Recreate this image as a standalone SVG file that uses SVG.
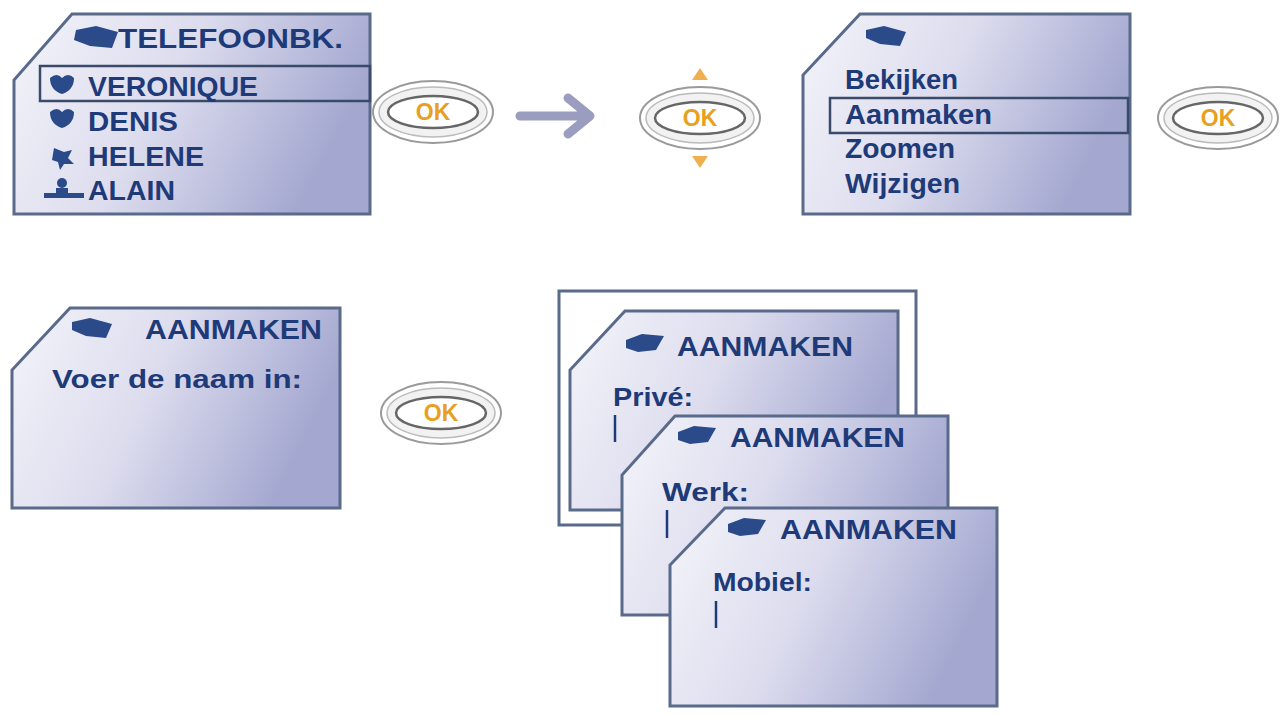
<svg xmlns="http://www.w3.org/2000/svg" width="1281" height="715" viewBox="0 0 1281 715">
<defs>
<linearGradient id="g" x1="0" y1="0" x2="1" y2="0.3"><stop offset="0" stop-color="#f4f4fa"/><stop offset="0.5" stop-color="#dcdcee"/><stop offset="1" stop-color="#a4a8d0"/></linearGradient>
<g id="okbtn"><ellipse rx="60" ry="31" fill="#fff" stroke="#9a9a9a" stroke-width="2"/><ellipse rx="54" ry="25" fill="#f2f2f2" stroke="#bbb" stroke-width="1.5"/><ellipse rx="45" ry="16" fill="#fff" stroke="#666" stroke-width="2.5"/><text y="8" text-anchor="middle" class="ok">OK</text></g>
</defs>
<style>
.scr{fill:url(#g);stroke:#5a6a8a;stroke-width:3}
.t{font-family:"Liberation Sans",Arial,sans-serif;font-weight:bold;fill:#1e3a78;font-size:27px}
.n{font-family:"Liberation Sans",Arial,sans-serif;font-weight:bold;fill:#1e3a78;font-size:25px}
.ok{font-family:"Liberation Sans",Arial,sans-serif;font-weight:bold;fill:#e8a020;font-size:23px}
.hl{fill:none;stroke:#3a4a6a;stroke-width:2.5}
.ic{fill:#2a4a8a}
.cur{stroke:#1e3a78;stroke-width:2.5}
</style>
<rect width="1281" height="715" fill="#fff"/>
<g id="screen1">
<path class="scr" d="M72,14 H370 V214 H14 V80 Z"/>
<rect class="hl" x="40" y="66" width="330" height="35"/>
<path class="ic" d="M76,30 l20,-4 l22,6 l-6,16 l-22,-2 l-16,-6 z"/>
<text class="t" x="118" y="48" textLength="225" lengthAdjust="spacingAndGlyphs">TELEFOONBK.</text>
<path class="ic" d="M50,78 q7,-6 12,0 q6,-6 12,0 q0,12 -12,16 q-12,-4 -12,-16z"/>
<text class="t" x="88" y="96" textLength="170" lengthAdjust="spacingAndGlyphs">VERONIQUE</text>
<path class="ic" d="M50,112 q7,-6 12,0 q6,-6 12,0 q0,12 -12,16 q-12,-4 -12,-16z"/>
<text class="t" x="88" y="131" textLength="90" lengthAdjust="spacingAndGlyphs">DENIS</text>
<path class="ic" d="M54,148 l10,4 l8,-2 l-4,8 l6,6 l-10,0 l-4,6 l-2,-8 l-6,-2 z"/>
<text class="t" x="88" y="166" textLength="116" lengthAdjust="spacingAndGlyphs">HELENE</text>
<circle class="ic" cx="62" cy="183" r="5"/><rect class="ic" x="44" y="193" width="40" height="5"/><rect class="ic" x="56" y="188" width="12" height="6"/>
<text class="t" x="88" y="200" textLength="87" lengthAdjust="spacingAndGlyphs">ALAIN</text>
</g>
<g id="ok1"><use href="#okbtn" x="433" y="112"/></g>
<g id="connectors"><path d="M520,116 H584 M568,98 L590,116 L568,134" fill="none" stroke="#9a9cc0" stroke-width="9" stroke-linecap="round" stroke-linejoin="round"/></g>
<g id="ok2"><use href="#okbtn" x="700" y="118"/><path d="M692,80 L708,80 L700,68 Z M692,156 L708,156 L700,168 Z" fill="#f0b050"/></g>
<g id="screen2">
<path class="scr" d="M860,14 H1130 V214 H803 V75 Z"/>
<rect class="hl" x="830" y="98" width="298" height="35"/>
<path class="ic" d="M866,30 l18,-4 l22,6 l-6,14 l-20,-2 l-14,-6 z"/>
<text class="t" x="845" y="89" textLength="113" lengthAdjust="spacingAndGlyphs">Bekijken</text>
<text class="t" x="845" y="124" textLength="147" lengthAdjust="spacingAndGlyphs">Aanmaken</text>
<text class="t" x="845" y="158" textLength="110" lengthAdjust="spacingAndGlyphs">Zoomen</text>
<text class="t" x="845" y="193" textLength="115" lengthAdjust="spacingAndGlyphs">Wijzigen</text>
</g>
<g id="ok3"><use href="#okbtn" x="1218" y="118"/></g>
<g id="screen3">
<path class="scr" d="M70,308 H340 V508 H12 V370 Z"/>
<path class="ic" d="M72,322 l18,-4 l22,6 l-6,14 l-20,-2 l-14,-6 z"/>
<text class="t" x="145" y="339" textLength="177" lengthAdjust="spacingAndGlyphs">AANMAKEN</text>
<text class="n" x="52" y="388" textLength="250" lengthAdjust="spacingAndGlyphs">Voer de naam in:</text>
</g>
<g id="ok4"><use href="#okbtn" x="441" y="413"/></g>
<g id="stack">
<rect x="559" y="291" width="357" height="234" fill="#fff" stroke="#5a6a8a" stroke-width="3"/>
<path class="scr" d="M625,311 H898 V510 H570 V370 Z"/>
<path class="ic" d="M626,340 l16,-6 l22,2 l-8,14 l-18,2 l-12,-4 z"/>
<text class="t" x="677" y="356" textLength="176" lengthAdjust="spacingAndGlyphs">AANMAKEN</text>
<text class="n" x="613" y="406" textLength="80" lengthAdjust="spacingAndGlyphs">Privé:</text>
<line class="cur" x1="615" y1="415" x2="615" y2="442"/>
<path class="scr" d="M675,416 H948 V615 H622 V475 Z"/>
<path class="ic" d="M678,432 l16,-6 l22,2 l-8,14 l-18,2 l-12,-4 z"/>
<text class="t" x="730" y="447" textLength="175" lengthAdjust="spacingAndGlyphs">AANMAKEN</text>
<text class="n" x="662" y="501" textLength="87" lengthAdjust="spacingAndGlyphs">Werk:</text>
<line class="cur" x1="667" y1="510" x2="667" y2="538"/>
<path class="scr" d="M725,508 H997 V706 H670 V565 Z"/>
<path class="ic" d="M728,524 l16,-6 l22,2 l-8,14 l-18,2 l-12,-4 z"/>
<text class="t" x="780" y="539" textLength="177" lengthAdjust="spacingAndGlyphs">AANMAKEN</text>
<text class="n" x="713" y="591" textLength="99" lengthAdjust="spacingAndGlyphs">Mobiel:</text>
<line class="cur" x1="716" y1="601" x2="716" y2="628"/>
</g>
</svg>
